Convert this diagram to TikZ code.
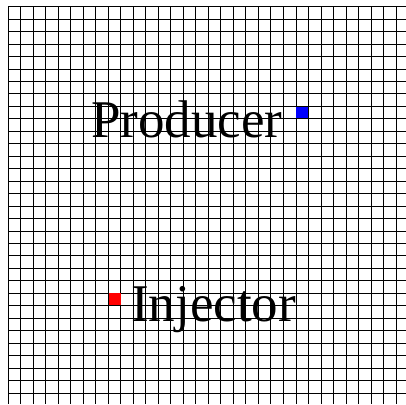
\documentclass[tikz,border=0pt]{standalone}
\usepackage{fontspec}
\setmainfont{Liberation Serif}
\begin{document}
\begin{tikzpicture}[x=1pt,y=-1pt,
  gridline/.style={black,line width=0.9pt},
  label/.style={inner sep=0pt,anchor=base west,font=\fontsize{53}{60}\selectfont},
  well/.style={minimum size=11.5pt,inner sep=0pt,draw=none}]
\useasboundingbox (0,0) rectangle (406,404);
\foreach \i in {0,...,31}{
  \draw[gridline] ({8+12.52*\i},6.7) -- ({8+12.52*\i},404);
  \draw[gridline] (8,{6.7+12.46*\i}) -- (406,{6.7+12.46*\i});
}
\node[label] (producer) at (91,137) {Producer};
\node[well,fill=blue] (prodwell) at (302,112.5) {};
\node[label] (injector) at (131,321.5) {Injector};
\node[well,fill=red] (injwell) at (115,299) {};
\end{tikzpicture}
\end{document}
